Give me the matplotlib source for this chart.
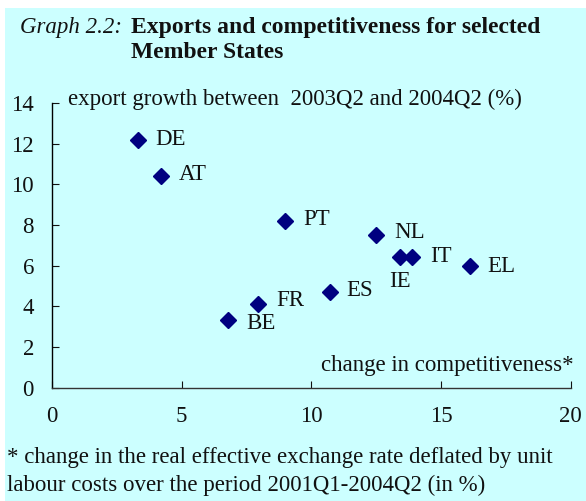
import matplotlib
matplotlib.use("Agg")
import matplotlib.pyplot as plt
from matplotlib.patches import Rectangle

# Data
countries = ["DE", "AT", "PT", "NL", "IE", "IT", "EL", "ES", "FR", "BE"]
competitiveness = [3.3, 4.2, 9.0, 12.5, 13.4, 13.9, 16.1, 10.7, 7.95, 6.8]
export_growth = [12.2, 10.4, 8.2, 7.5, 6.4, 6.4, 6.0, 4.7, 4.1, 3.3]
x_ticks = [0, 5, 10, 15, 20]
y_ticks = [0, 2, 4, 6, 8, 10, 12, 14]
# label offsets in points (dx, dy)
label_offsets = {"DE": (13, 0), "AT": (13, 1), "PT": (13, 1), "NL": (13, 2),
                 "IE": (0, -17), "IT": (13, 1), "EL": (13, -1), "ES": (12, 1),
                 "FR": (13, 3), "BE": (13, -2)}

W, H = 586, 501
DPI = 100
BG = "#ccffff"
FS = 16.5
TXT = "#111111"
plt.rcParams["font.family"] = ["Liberation Serif", "DejaVu Serif"]

fig = plt.figure(figsize=(W / DPI, H / DPI), dpi=DPI, facecolor="white")
fig.patches.append(Rectangle((5 / W, 0), 1, 1 - 8 / H, transform=fig.transFigure,
                             facecolor=BG, edgecolor="none", zorder=-10))

ax = fig.add_axes([52 / W, 1 - 387.5 / H, (570.7 - 52) / W, (387.5 - 103) / H])
ax.set_facecolor("none")
ax.plot(competitiveness, export_growth, linestyle="none", marker="D",
        markersize=8, color="#000080", clip_on=False)
for c, x, y in zip(countries, competitiveness, export_growth):
    dx, dy = label_offsets[c]
    ax.annotate(c, (x, y), xytext=(dx, dy), textcoords="offset points",
                ha="left" if dx else "center", va="center", fontsize=FS,
                color=TXT)

ax.set_xlim(0, 20)
ax.set_ylim(0, 14)
ax.set_xticks(x_ticks)
ax.set_yticks(y_ticks)
ax.spines["top"].set_visible(False)
ax.spines["right"].set_visible(False)
ax.spines["left"].set_linewidth(1.0)
ax.spines["bottom"].set_linewidth(1.0)
ax.spines["bottom"].set_color("#333333")
ax.tick_params(axis="both", direction="in", length=5, labelsize=FS,
               colors=TXT)
ax.tick_params(axis="x", pad=13)
ax.tick_params(axis="y", pad=13)

fig.text(68 / W, 1 - 99 / H, "export growth between  2003Q2 and 2004Q2 (%)",
         fontsize=FS, va="center", ha="left", color=TXT)
fig.text(574 / W, 1 - 366 / H, "change in competitiveness*",
         fontsize=FS, va="center", ha="right", color=TXT)

fig.text(20 / W, 1 - 27 / H, "Graph 2.2:", fontsize=FS, style="italic",
         va="center", ha="left", color=TXT)
fig.text(131 / W, 1 - 27 / H, "Exports and competitiveness for selected",
         fontsize=17, weight="bold", va="center", ha="left", color=TXT)
fig.text(131 / W, 1 - 53 / H, "Member States",
         fontsize=17, weight="bold", va="center", ha="left", color=TXT)

fig.text(7 / W, 1 - 457 / H,
         "* change in the real effective exchange rate deflated by unit",
         fontsize=FS, va="center", ha="left", color=TXT)
fig.text(7 / W, 1 - 485 / H,
         "labour costs over the period 2001Q1-2004Q2 (in %)",
         fontsize=FS, va="center", ha="left", color=TXT)

fig.savefig("out.png", dpi=DPI, facecolor="white")
